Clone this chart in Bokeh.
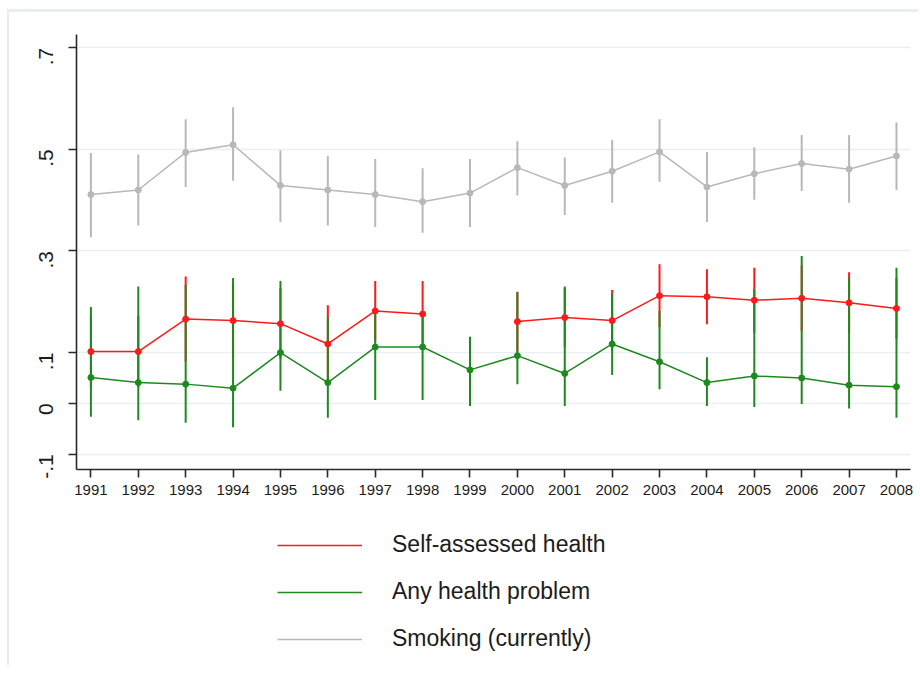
import math
from bokeh.plotting import figure
from bokeh.layouts import column
from bokeh.models import Range1d, FixedTicker, Legend, LegendItem
from bokeh.embed import file_html
from bokeh.resources import INLINE

nan = float("nan")

years = list(range(1991, 2009))
ytick_values = [-0.1, 0, 0.1, 0.3, 0.5, 0.7]
ytick_labels = ["-.1", "0", ".1", ".3", ".5", ".7"]

# Smoking (currently)
smoking = [0.411, 0.420, 0.494, 0.509, 0.429, 0.420, 0.411, 0.397, 0.414,
           0.464, 0.429, 0.457, 0.495, 0.426, 0.452, 0.472, 0.461, 0.487]
smoking_lo = [0.327, 0.350, 0.426, 0.438, 0.357, 0.350, 0.347, 0.336, 0.347,
              0.409, 0.371, 0.395, 0.436, 0.357, 0.401, 0.418, 0.395, 0.420]
smoking_hi = [0.493, 0.490, 0.559, 0.583, 0.498, 0.487, 0.481, 0.463, 0.481,
              0.516, 0.484, 0.519, 0.559, 0.495, 0.504, 0.528, 0.528, 0.553]

# Self-assessed health
sah = [0.102, 0.102, 0.166, 0.163, 0.157, 0.117, 0.182, 0.176, nan,
       0.161, 0.169, 0.163, 0.212, 0.210, 0.203, 0.207, 0.198, 0.187]
sah_lo = [0.032, 0.032, 0.082, 0.088, 0.087, 0.041, 0.123, 0.111, nan,
          0.102, 0.111, 0.103, 0.150, 0.156, 0.139, 0.142, 0.138, 0.127]
sah_hi = [0.172, 0.172, 0.250, 0.238, 0.227, 0.193, 0.241, 0.241, nan,
          0.220, 0.227, 0.223, 0.274, 0.264, 0.267, 0.272, 0.258, 0.247]

# Any health problem
ahp = [0.051, 0.041, 0.038, 0.030, 0.100, 0.041, 0.111, 0.111, 0.066,
       0.094, 0.059, 0.117, 0.082, 0.041, 0.054, 0.050, 0.036, 0.033]
ahp_lo = [-0.026, -0.033, -0.038, -0.047, 0.025, -0.028, 0.007, 0.007, -0.005,
          0.038, -0.005, 0.056, 0.028, -0.005, -0.007, -0.001, -0.010, -0.028]
ahp_hi = [0.190, 0.230, 0.233, 0.247, 0.241, 0.170, 0.180, 0.176, 0.131,
          0.219, 0.230, 0.217, 0.182, 0.091, 0.224, 0.290, 0.247, 0.267]

series_labels = ["Self-assessed health", "Any health problem", "Smoking (currently)"]

RED = "#ff1a1a"
GREEN = "#1e8a1e"
GRAY = "#b8b8b8"
TEXT = "#1c1c1c"
FONT = "Liberation Sans"

# ---------------- main chart ----------------
p = figure(width=909, height=493, output_backend="svg", toolbar_location=None,
           x_range=Range1d(1990.696, 2008.296), y_range=Range1d(-0.130, 0.726),
           min_border_left=67, min_border_right=8, min_border_top=22,
           min_border_bottom=36)
p.outline_line_color = None
p.background_fill_color = "white"
p.border_fill_color = "white"

p.xaxis.ticker = FixedTicker(ticks=years)
p.yaxis.ticker = FixedTicker(ticks=ytick_values)
p.yaxis.major_label_overrides = {v: l for v, l in zip(ytick_values, ytick_labels)}
p.yaxis.major_label_orientation = math.pi / 2
for ax in (p.xaxis[0], p.yaxis[0]):
    ax.axis_line_color = "#2a2a2a"
    ax.axis_line_width = 1.6
    ax.major_tick_line_color = "#2a2a2a"
    ax.major_tick_line_width = 1.6
    ax.major_tick_in = 0
    ax.major_tick_out = 8
    ax.minor_tick_line_color = None
    ax.major_label_text_color = TEXT
    ax.major_label_text_font = FONT
p.xaxis.major_label_text_font_size = "15px"
p.xaxis.major_label_standoff = 7
p.yaxis.major_label_text_font_size = "21px"
p.yaxis.major_label_standoff = 22

p.xgrid.grid_line_color = None
p.ygrid.grid_line_color = "#e8f0f1"
p.ygrid.grid_line_width = 1.5

# error bars
p.segment(x0=years, y0=smoking_lo, x1=years, y1=smoking_hi, line_color=GRAY, line_width=2)
p.segment(x0=years, y0=sah_lo, x1=years, y1=sah_hi, line_color=RED, line_width=2)
p.segment(x0=years, y0=ahp_lo, x1=years, y1=ahp_hi, line_color=GREEN, line_width=2)

# lines and markers
p.line(years, smoking, line_color=GRAY, line_width=1.5)
p.scatter(years, smoking, size=6, color=GRAY)
p.line(years, sah, line_color=RED, line_width=1.5)
p.scatter(years, sah, size=6, color=RED)
p.line(years, ahp, line_color=GREEN, line_width=1.5)
p.scatter(years, ahp, size=6, color=GREEN)

# ---------------- legend panel ----------------
q = figure(width=909, height=160, output_backend="svg", toolbar_location=None,
           x_range=Range1d(0, 1), y_range=Range1d(0, 1),
           min_border_left=0, min_border_right=0, min_border_top=0,
           min_border_bottom=0)
q.xaxis.visible = False
q.yaxis.visible = False
q.grid.visible = False
q.outline_line_color = None
q.border_fill_color = "white"

# legend key renderers (their data sit outside the visible range)
lr = [q.line([-5, -4], [-5, -5], line_color=c, line_width=1.6) for c in (RED, GREEN, GRAY)]
legend = Legend(items=[LegendItem(label=lab, renderers=[r]) for lab, r in zip(series_labels, lr)],
                location=(201, 13), orientation="vertical")
legend.border_line_color = None
legend.background_fill_alpha = 0
legend.padding = 0
legend.margin = 0
legend.glyph_width = 85
legend.glyph_height = 26
legend.label_height = 26
legend.spacing = 20
legend.label_standoff = 30
legend.label_text_font = FONT
legend.label_text_font_size = "23px"
legend.label_text_color = TEXT
q.add_layout(legend, "center")

layout = column(p, q, spacing=0,
                styles={"border-left": "2px solid #e6eef0",
                        "border-top": "3px solid #e6eef0",
                        "margin-left": "7px", "margin-top": "9px"})

open("out.html", "w").write(file_html(layout, INLINE))
